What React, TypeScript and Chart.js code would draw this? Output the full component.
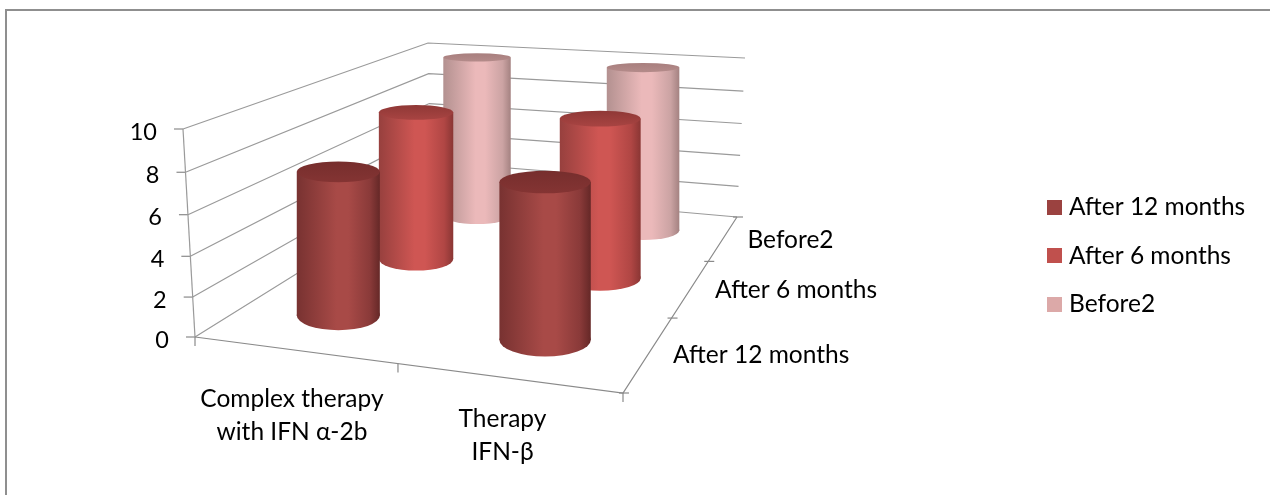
import React, { useEffect, useRef } from "react";
import { Chart, registerables } from "chart.js";

Chart.register(...registerables);

// ---- data ----
const categories = [["Complex therapy", "with IFN \u03b1-2b"], ["Therapy", "IFN-\u03b2"]];
const seriesNames = ["After 12 months", "After 6 months", "Before2"];
const after12 = [7.3, 7.6];
const after6 = [8.4, 8.7];
const before2 = [10.0, 9.9];
const yTicks = [0, 2, 4, 6, 8, 10];

// ---- style ----
const legendColors = ["#9b4240", "#c0504d", "#dca9a8"];
const sideEdgeL = ["#783231", "#97403e", "#b39190"];
const sideLit = ["#a84a47", "#cf5653", "#ebb9ba"];
const sideMid = ["#8a3a39", "#b04644", "#cba3a3"];
const sideEdgeR = ["#652827", "#8a3634", "#a48281"];
const capBack = ["#762e2d", "#8f3836", "#a87f7e"];
const capFront = ["#843433", "#a84442", "#b48b8a"];
const capFlat = [1, 1, 0.8];
const FONT = "Lato";
const FS = 24.5;
const TICK_FS = 23.5;
const LINE = "#9a9a9a";
const TICK = "#8a8a8a";

// ---- camera: floor and ceiling of the 3D box, as homographies ----
type Pt = [number, number];
function homography(p0: Pt, p1: Pt, p2: Pt, p3: Pt) {
  const dx1 = p1[0] - p2[0], dx2 = p3[0] - p2[0], sx = p0[0] - p1[0] + p2[0] - p3[0];
  const dy1 = p1[1] - p2[1], dy2 = p3[1] - p2[1], sy = p0[1] - p1[1] + p2[1] - p3[1];
  const den = dx1 * dy2 - dx2 * dy1;
  const g = (sx * dy2 - dx2 * sy) / den;
  const h = (dx1 * sy - sx * dy1) / den;
  const a = p1[0] - p0[0] + g * p1[0], b = p3[0] - p0[0] + h * p3[0];
  const d = p1[1] - p0[1] + g * p1[1], e = p3[1] - p0[1] + h * p3[1];
  return (u: number, w: number): Pt => {
    const W = 1 + g * u + h * w;
    return [(a * u + b * w + p0[0]) / W, (d * u + e * w + p0[1]) / W];
  };
}
const floorAt = homography([195, 337], [623, 393], [737, 217], [431, 190]);
const ceilAt = homography([183, 129], [630, 160], [745, 58], [428, 43]);
const V_MAX = 10;
function project(u: number, w: number, v: number): Pt {
  const t = v / V_MAX;
  const s = t + 0.05 * t * (t - 1);
  const f = floorAt(u, w), c = ceilAt(u, w);
  return [f[0] + (c[0] - f[0]) * s, f[1] + (c[1] - f[1]) * s];
}
// y scale: value 0 and 10 at the front-left corner of the box
const Y0 = 337, PX_PER_UNIT = 20.8, H = 495, W_ = 1270, AXIS_W = 170;
const toYVal = (py: number) => (Y0 - py) / PX_PER_UNIT;

const catU = [0.248, 0.756];
const depthW = [1 / 6, 1 / 2, 5 / 6];
const RU = 0.107, RW = 0.077;

const seriesValues = [after12, after6, before2];
function barGeom(si: number, ci: number) {
  const u = catU[ci], w = depthW[si], v = seriesValues[si][ci];
  const mid = project(u, w, v / 2);
  const l = project(u - RU, w, v / 2), r = project(u + RU, w, v / 2);
  const width = r[0] - l[0];
  const bottom = project(u, w, 0), top = project(u, w, v);
  const ryB = (project(u, w - RW, 0)[1] - project(u, w + RW, 0)[1]) / 2;
  const ryT = ((project(u, w - RW, v)[1] - project(u, w + RW, v)[1]) / 2) * capFlat[si];
  return { x: mid[0], width, yBase: bottom[1], yTop: top[1], ryB, ryT };
}

function sideGradient(ctx: CanvasRenderingContext2D, si: number, left: number, width: number) {
  const g = ctx.createLinearGradient(left, 0, left + width, 0);
  g.addColorStop(0, sideEdgeL[si]);
  g.addColorStop(0.48, sideLit[si]);
  g.addColorStop(0.62, sideLit[si]);
  g.addColorStop(0.88, sideMid[si]);
  g.addColorStop(1, sideEdgeR[si]);
  return g;
}

const boxPlugin = {
  id: "box3d",
  afterLayout(chart: any) {
    const xs = chart.scales.x;
    xs.min = xs.left;
    xs.max = xs.right;
    xs.configure();
    const ys = chart.scales.y;
    ys.min = toYVal(ys.bottom);
    ys.max = toYVal(ys.top);
    ys.configure();
    const lg = chart.legend;
    if (lg) {
      const pad = lg.options.labels.padding;
      lg.left = 1052.25 - pad;
      lg.right = W_;
      lg.top = 195 - pad;
      lg.bottom = lg.top + 240;
    }
  },
  afterDatasetsUpdate(chart: any) {
    chart.data.datasets.forEach((_: any, si: number) => {
      chart.getDatasetMeta(si).data.forEach((el: any, ci: number) => {
        el.width = barGeom(si, ci).width;
      });
    });
  },
  beforeDraw(chart: any) {
    const ctx: CanvasRenderingContext2D = chart.ctx;
    const xs = chart.scales.x, ys = chart.scales.y;
    const P = (u: number, w: number, v: number): Pt => {
      const p = project(u, w, v);
      return [xs.getPixelForValue(p[0]), ys.getPixelForValue(toYVal(p[1]))];
    };
    // y-axis tick labels follow the slanted wall edge
    const items = ys.getLabelItems(chart.chartArea);
    items.forEach((it: any, i: number) => {
      const p = P(0, 0, yTicks[i]);
      it.options.translation = [p[0] - 26, p[1] + 3];
    });
    // outer frame: top and left edges only
    ctx.save();
    ctx.strokeStyle = "#8f8f8f";
    ctx.lineWidth = 2;
    ctx.beginPath();
    ctx.moveTo(6, H);
    ctx.lineTo(6, 10);
    ctx.lineTo(W_, 10);
    ctx.stroke();
    // walls
    ctx.strokeStyle = LINE;
    ctx.lineWidth = 1.2;
    const poly = (pts: Pt[], col = LINE) => {
      ctx.strokeStyle = col;
      ctx.beginPath();
      pts.forEach((p, i) => (i ? ctx.lineTo(p[0], p[1]) : ctx.moveTo(p[0], p[1])));
      ctx.stroke();
    };
    yTicks.forEach((v) => {
      poly([P(0, 0, v), P(0, 1, v), P(1, 1, v)]);
      const e = P(0, 0, v);
      poly([[e[0] - 9, e[1]], e], TICK);
    });
    poly([P(0, 0, 0), P(0, 0, V_MAX)]);
    poly([P(0, 0, 0), P(1, 0, 0), P(1, 1, 0)], TICK);
    [0, 0.5, 1].forEach((u) => {
      const p = P(u, 0, 0);
      poly([p, [p[0], p[1] + 9]], TICK);
    });
    [0, 1 / 3, 2 / 3, 1].forEach((w) => {
      const p = P(1, w, 0);
      poly([[p[0] - 4, p[1]], [p[0] + 6, p[1]]], TICK);
    });
    // axis labels
    ctx.fillStyle = "#000";
    ctx.font = `${FS}px ${FONT}`;
    ctx.textBaseline = "middle";
    ctx.textAlign = "center";
    const catAnchor = [0.25, 0.75];
    const catOff: Pt[] = [[-2, 49], [-5, 41]];
    categories.forEach((lines, i) => {
      const p = P(catAnchor[i], 0, 0);
      lines.forEach((ln, k) => ctx.fillText(ln, p[0] + catOff[i][0], p[1] + catOff[i][1] + k * 33));
    });
    ctx.textAlign = "left";
    seriesNames.forEach((name, si) => {
      const p = P(1, depthW[si], 0);
      ctx.fillText(name, p[0] + 24, p[1] + 2);
    });
    ctx.restore();
  },
  beforeDatasetDraw(chart: any, args: any) {
    const ctx: CanvasRenderingContext2D = chart.ctx;
    const si = args.index;
    const ys = chart.scales.y, xs = chart.scales.x;
    seriesValues[si].forEach((_, ci) => {
      const g = barGeom(si, ci);
      const cx = xs.getPixelForValue(g.x);
      ctx.save();
      ctx.fillStyle = sideGradient(ctx, si, cx - g.width / 2, g.width);
      ctx.beginPath();
      ctx.ellipse(cx, ys.getPixelForValue(toYVal(g.yBase)), g.width / 2, g.ryB, 0, 0, Math.PI * 2);
      ctx.fill();
      ctx.restore();
    });
  },
  afterDatasetDraw(chart: any, args: any) {
    const ctx: CanvasRenderingContext2D = chart.ctx;
    const si = args.index;
    const ys = chart.scales.y, xs = chart.scales.x;
    seriesValues[si].forEach((_, ci) => {
      const g = barGeom(si, ci);
      const cx = xs.getPixelForValue(g.x);
      const cy = ys.getPixelForValue(toYVal(g.yTop));
      const grad = ctx.createLinearGradient(0, cy - g.ryT, 0, cy + g.ryT);
      grad.addColorStop(0, capBack[si]);
      grad.addColorStop(1, capFront[si]);
      ctx.save();
      ctx.fillStyle = grad;
      ctx.beginPath();
      ctx.ellipse(cx, cy, g.width / 2, g.ryT, 0, 0, Math.PI * 2);
      ctx.fill();
      ctx.restore();
    });
  },
};

function swatch(color: string) {
  const c = document.createElement("canvas");
  c.width = 15;
  c.height = 15;
  const x = c.getContext("2d")!;
  x.fillStyle = color;
  x.fillRect(0, 0, 15, 15);
  return c;
}

export default function App() {
  const ref = useRef<HTMLCanvasElement>(null);
  useEffect(() => {
    const chart = new Chart(ref.current!, {
      type: "bar",
      data: {
        datasets: seriesNames.map((label, si) => ({
          label,
          data: seriesValues[si].map((_, ci) => {
            const g = barGeom(si, ci);
            return { x: g.x, y: [toYVal(g.yBase), toYVal(g.yTop)] };
          }),
          barThickness: 80,
          grouped: false,
          clip: false as any,
          inflateAmount: 0,
          borderWidth: 0,
          backgroundColor: (c: any) => {
            if (c.dataIndex === undefined) return legendColors[si];
            const g = barGeom(si, c.dataIndex);
            const cx = c.chart.scales.x.getPixelForValue(g.x);
            return sideGradient(c.chart.ctx, si, cx - g.width / 2, g.width);
          },
        })),
      },
      options: {
        responsive: false,
        animation: false,
        events: [],
        layout: { padding: 0 },
        scales: {
          x: { type: "linear", display: false, offset: false, min: AXIS_W, max: 1000, grid: { display: false } },
          y: {
            type: "linear",
            position: "left",
            min: toYVal(H),
            max: toYVal(0),
            grid: { display: false, drawTicks: false },
            border: { display: false },
            afterFit: (s: any) => {
              s.width = AXIS_W;
            },
            afterBuildTicks: (s: any) => {
              s.ticks = yTicks.map((value) => ({ value }));
            },
            ticks: {
              autoSkip: false,
              color: "#000",
              font: { family: FONT, size: TICK_FS },
              callback: (v: any) => String(v),
            },
          },
        },
        plugins: {
          tooltip: { enabled: false },
          title: { display: false },
          legend: {
            position: "right",
            align: "start",
            labels: {
              usePointStyle: true,
              pointStyleWidth: 4.5,
              padding: 24,
              color: "#000",
              font: { family: FONT, size: FS },
              generateLabels: () =>
                seriesNames.map((text, i) => ({
                  text,
                  fillStyle: legendColors[i],
                  strokeStyle: legendColors[i],
                  lineWidth: 0,
                  pointStyle: swatch(legendColors[i]),
                  datasetIndex: i,
                  hidden: false,
                })),
            },
          },
        },
      } as any,
      plugins: [boxPlugin as any],
    });
    return () => chart.destroy();
  }, []);
  return (
    <canvas
      ref={ref}
      width={W_}
      height={H}
      style={{ position: "fixed", left: 0, top: 0, display: "block", background: "#fff" }}
    />
  );
}
